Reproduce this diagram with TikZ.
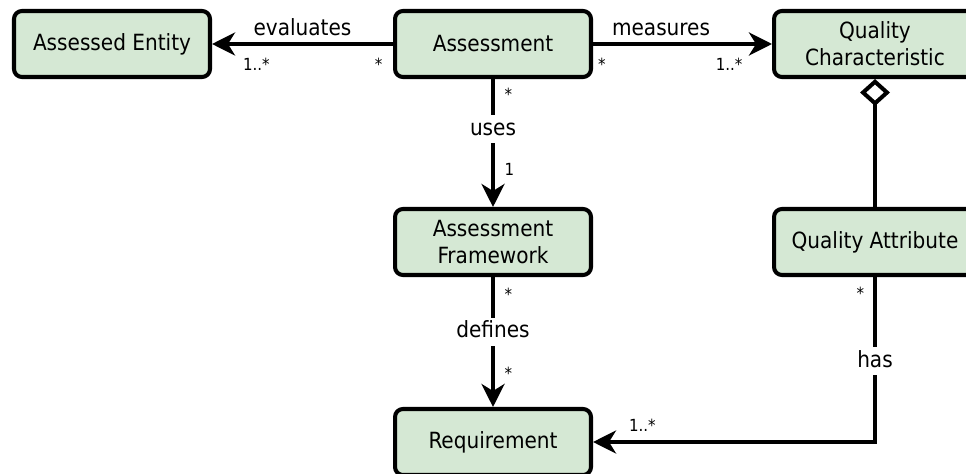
\documentclass[tikz,border=0pt]{standalone}
\usepackage{fontspec}
\setmainfont{DejaVu Sans Condensed}
\usepackage{tikz}
\usetikzlibrary{arrows.meta,shapes,positioning}
\definecolor{boxgreen}{HTML}{D5E8D4}

\begin{document}
\begin{tikzpicture}[x=0.02cm, y=-0.02cm,
  cls/.style={draw, line width=2.3pt, rounded corners=4.5pt, fill=boxgreen,
    minimum width=3.92cm, minimum height=1.32cm, inner sep=0pt, align=center,
    font=\fontsize{12.7}{15.3}\selectfont},
  widecls/.style={cls, minimum width=4.04cm},
  assoc/.style={line width=2.3pt, -{Stealth[length=0.46cm, width=0.46cm, inset=0.14cm]}},
  aggr/.style={line width=2.3pt, -{Diamond[open, length=0.54cm, width=0.6cm, fill=white]}},
  role/.style={font=\fontsize{12.7}{15.3}\selectfont},
  online/.style={role, fill=white, inner sep=1pt, text height=10.5pt, text depth=3.5pt},
  mult/.style={font=\fontsize{9.5}{11}\selectfont, inner sep=1pt, text height=7pt, text depth=0pt}]
\useasboundingbox (0,0) rectangle (966,473);
\clip (0,0) rectangle (966,473);

\node [cls] (entity) at (112,44) {Assessed Entity};
\node [cls] (assessment) at (493,44) {Assessment};
\node [widecls] (quality) at (875,44) {Quality\\Characteristic};
\node [cls] (framework) at (493,242) {Assessment\\Framework};
\node [widecls] (attribute) at (875,242) {Quality Attribute};
\node [cls] (requirement) at (493,442) {Requirement};

\draw [assoc] (assessment) -- node [role, above] {evaluates}
  node [mult, below=5.7pt, pos=0.08] {*} node [mult, below=5.7pt, pos=0.755] {1..*} (entity);
\draw [assoc] (assessment) -- node [role, above, pos=0.38] {measures}
  node [mult, below=5.7pt, pos=0.05] {*} node [mult, below=5.7pt, pos=0.76] {1..*} (quality);

\draw [assoc] (assessment) -- node [online, pos=0.39] {uses}
  node [mult, right=4.5pt, pos=0.116] {*} node [mult, right=4.5pt, pos=0.705] {1} (framework);
\draw [assoc] (framework) -- node [online, pos=0.42] {defines}
  node [mult, right=4.5pt, pos=0.13] {*} node [mult, right=4.5pt, pos=0.74] {*} (requirement);

\draw [aggr] (attribute) -- (quality);
\draw [assoc] (attribute) |- node [online, pos=0.255] {has}
  node [mult, left=4pt, pos=0.05] {*} node [mult, above=4pt, pos=0.9125] {1..*} (requirement);
\end{tikzpicture}
\end{document}
